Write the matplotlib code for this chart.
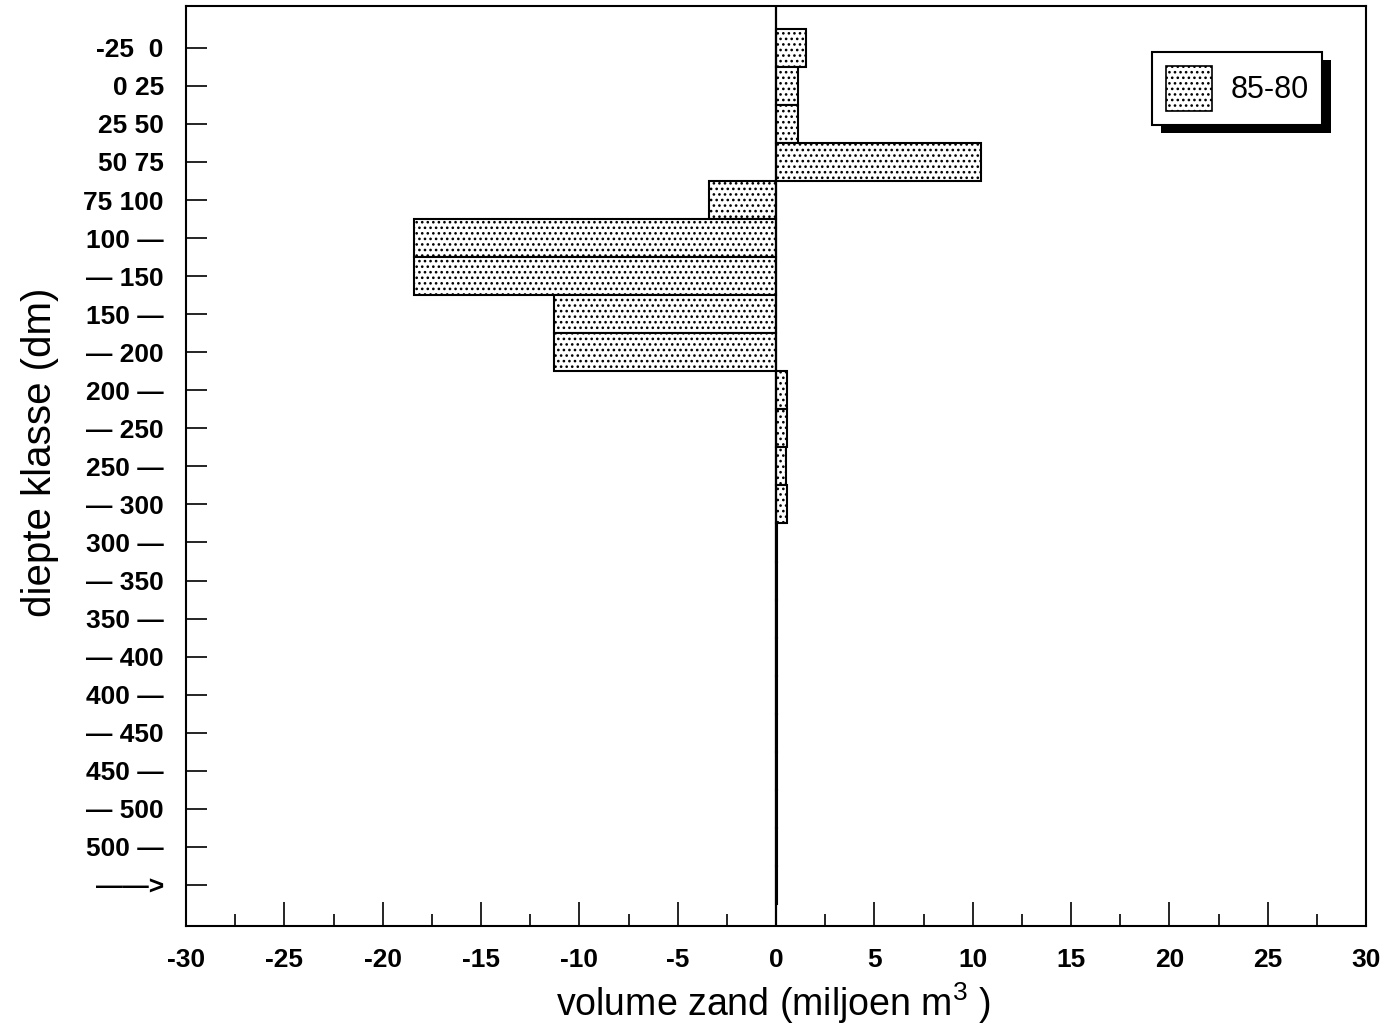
import matplotlib
matplotlib.use("Agg")
import matplotlib.pyplot as plt
from matplotlib import patheffects
from matplotlib.patches import Patch
from matplotlib.ticker import MultipleLocator, FuncFormatter

plt.rcParams['font.family'] = ['Liberation Sans', 'DejaVu Sans']
plt.rcParams['mathtext.fontset'] = 'custom'
plt.rcParams['mathtext.rm'] = 'Liberation Sans'
plt.rcParams['hatch.linewidth'] = 1.1

# depth classes (dm), top to bottom
klassen = ["-25  0", "0 25", "25 50", "50 75", "75 100",
           "100 \u2014", "\u2014 150", "150 \u2014", "\u2014 200",
           "200 \u2014", "\u2014 250", "250 \u2014", "\u2014 300",
           "300 \u2014", "\u2014 350", "350 \u2014", "\u2014 400",
           "400 \u2014", "\u2014 450", "450 \u2014", "\u2014 500",
           "500 \u2014", "\u2014\u2014>"]

# change in sand volume 1985-1980 (million m3)
volume_85_80 = [1.5, 1.1, 1.1, 10.4, -3.4,
                -18.4, -18.4, -11.3, -11.3,
                0.55, 0.55, 0.5, 0.55,
                0.05, 0.05, 0.05, 0.05,
                0.05, 0.05, 0.05, 0.05,
                0.05, 0.05]

fig = plt.figure(figsize=(13.84, 10.29), dpi=100)
ax = fig.add_axes([186/1384, 1 - 926/1029, 1180/1384, 920/1029])

pos = list(range(len(klassen)))
ax.barh(pos, volume_85_80, height=1.0, color='white', edgecolor='black',
        linewidth=1.5, hatch='...', label='85-80', zorder=2)
ax.axvline(0, color='black', linewidth=1.6, zorder=4)

ax.set_xlim(-30, 30)
ax.set_ylim(len(klassen) - 1 + 1.08, -1.1)

ax.set_yticks(pos)
ax.set_yticklabels(klassen, fontsize=19, fontweight='bold')
ax.tick_params(axis='y', direction='in', length=15, width=1.2, pad=16)

ax.xaxis.set_major_locator(MultipleLocator(5))
ax.xaxis.set_minor_locator(MultipleLocator(2.5))
ax.xaxis.set_major_formatter(FuncFormatter(lambda v, p: f"{v:g}"))
ax.tick_params(axis='x', which='major', direction='in', length=17, width=1.2,
               pad=16, labelsize=19)
ax.tick_params(axis='x', which='minor', direction='in', length=9, width=1.2)
for lab in ax.get_xticklabels():
    lab.set_fontweight('bold')

for sp in ax.spines.values():
    sp.set_linewidth(1.5)

fig.text(773/1384, 1 - 1003/1029, r'volume zand (miljoen $\mathregular{m^3}$ )',
         fontsize=27, ha='center', va='center')
fig.text(40/1384, 1 - 452/1029, 'diepte klasse (dm)', fontsize=29,
         rotation=90, ha='center', va='center')

handle = Patch(facecolor='white', edgecolor='black', hatch='...', linewidth=1.2)
leg = ax.legend([handle], ['85-80'], loc='upper right',
                bbox_to_anchor=(0.963, 0.95), fontsize=22, fancybox=False,
                framealpha=1, edgecolor='black', handlelength=1.5,
                handleheight=1.9, borderpad=0.45, handletextpad=0.6,
                borderaxespad=0)
leg.get_frame().set_linewidth(1.5)
leg.get_frame().set_path_effects([
    patheffects.SimplePatchShadow(offset=(6, -6), shadow_rgbFace='black', alpha=1),
    patheffects.Normal()])

fig.savefig('out.png', dpi=100)
